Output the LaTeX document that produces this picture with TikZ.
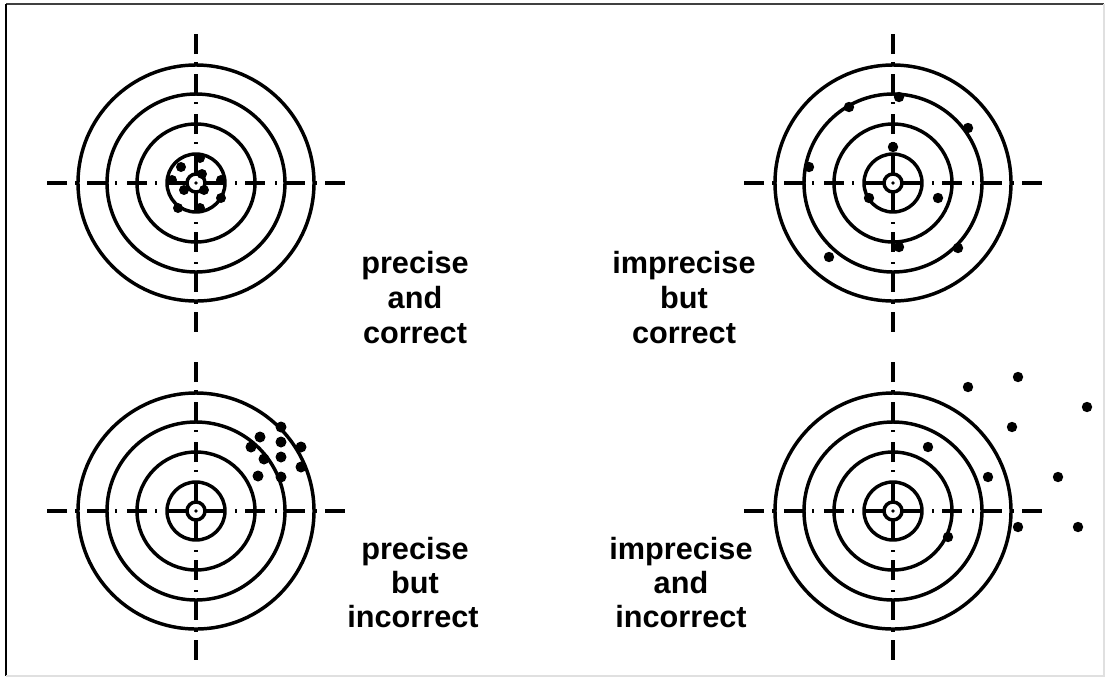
\documentclass[tikz,border=0pt]{standalone}
\usepackage{fontspec}
\setmainfont{Liberation Sans}
\newcommand\drawtarget[1]{%
  \begin{scope}[shift={#1}]
    \foreach \r in {118,89,59,29} \draw[ring] (0,0) circle[radius=\r];
    \draw[ring] (0,0) circle[radius=9];
    \fill (0,0) circle[radius=1.8];
    \draw[hair] (-29,0) -- (-9,0) (9,0) -- (29,0) (0,-29) -- (0,-9) (0,9) -- (0,29);
    \draw[dashdot] (39,0) -- (149,0) (-39,0) -- (-149,0) (0,39) -- (0,149) (0,-39) -- (0,-149);
  \end{scope}}
\begin{document}
\begin{tikzpicture}[x=0.75pt,y=-0.75pt,
  ring/.style={line width=2.6pt},
  hair/.style={line width=2.6pt},
  dashdot/.style={line width=2.6pt, dash pattern=on 1.5pt off 6pt on 15pt off 7.5pt},
  hit/.style={fill=black},
  lbl/.style={anchor=base, inner sep=0pt, font=\fontsize{23}{26}\selectfont\bfseries}]
\useasboundingbox (0,0) rectangle (1107,679);
% frame
\draw[black!75, line width=0.9pt] (6,4) -- (1104,4);
\draw[black, line width=1.2pt] (6,4) -- (6,676);
\draw[black!12, line width=0.8pt] (1104,4) -- (1104,676) -- (6,676);
% targets
\drawtarget{(196,183)}
\drawtarget{(893,183)}
\drawtarget{(196,511)}
\drawtarget{(893,511)}
% hits: precise and correct
\foreach \p in {(181,167),(200,158),(202,174),(172,180),(221,180),(184,190),(204,190),(221,198),(178,208),(200,208)}
  \fill[hit] \p circle[radius=5];
% hits: imprecise but correct
\foreach \p in {(899,97),(849,107),(968,128),(893,147),(809,167),(869,198),(938,198),(899,247),(958,248),(829,257)}
  \fill[hit] \p circle[radius=5.2];
% hits: precise but incorrect
\foreach \p in {(281,427),(260,437),(251,447),(281,442),(301,447),(264,459),(281,457),(301,467),(258,476),(281,477)}
  \fill[hit] \p circle[radius=5.5];
% hits: imprecise and incorrect
\foreach \p in {(1018,377),(968,387),(1087,407),(1012,427),(928,447),(988,477),(1058,477),(1018,527),(1078,527),(948,537)}
  \fill[hit] \p circle[radius=5.2];
% labels
\node[lbl] (a1) at (415,273) {precise};
\node[lbl] (a2) at (415,308) {and};
\node[lbl] (a3) at (415,343) {correct};
\node[lbl] (b1) at (684,273) {imprecise};
\node[lbl] (b2) at (684,308) {but};
\node[lbl] (b3) at (684,343) {correct};
\node[lbl] (c1) at (415,559) {precise};
\node[lbl] (c2) at (415,593) {but};
\node[lbl] (c3) at (413,627) {incorrect};
\node[lbl] (d1) at (681,559) {imprecise};
\node[lbl] (d2) at (681,593) {and};
\node[lbl] (d3) at (681,627) {incorrect};
\end{tikzpicture}
\end{document}
